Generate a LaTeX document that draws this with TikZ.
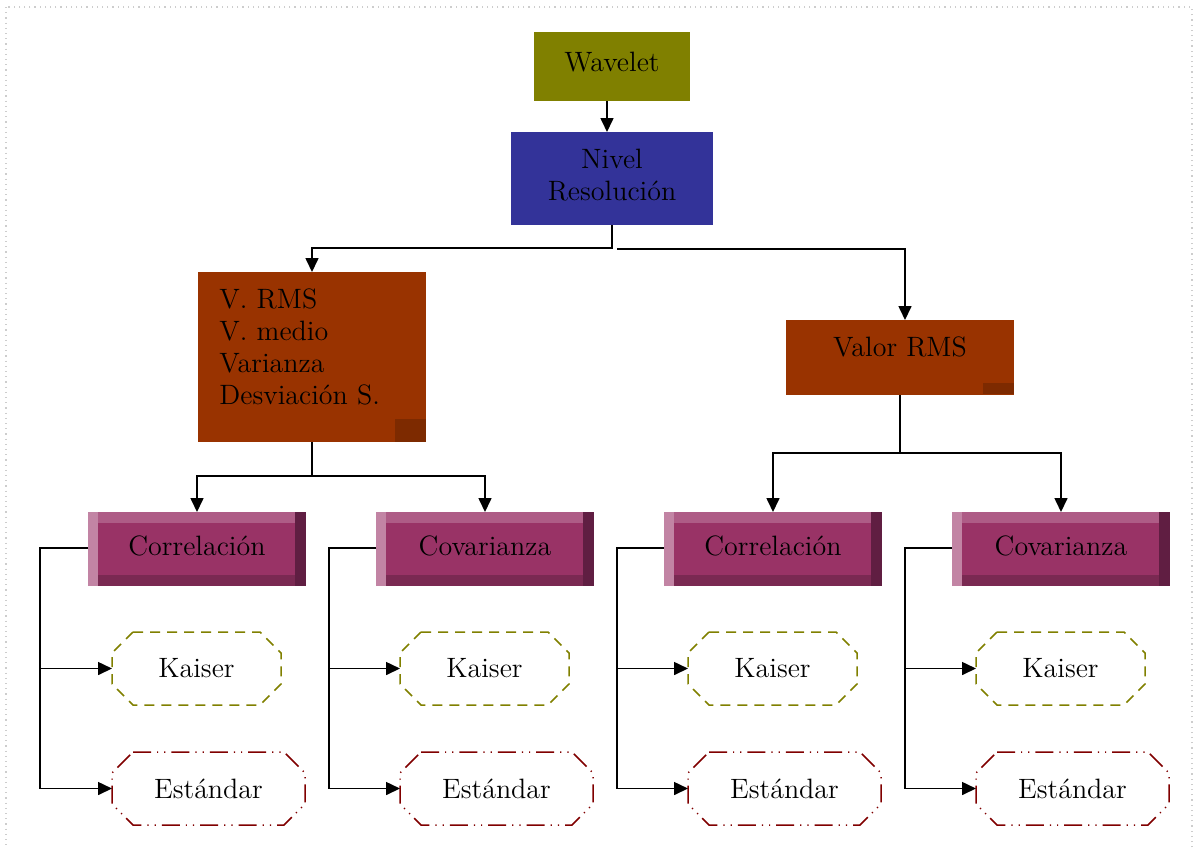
\documentclass[tikz,border=0pt]{standalone}
\usetikzlibrary{arrows.meta}
\definecolor{wolive}{RGB}{128,128,0}
\definecolor{wblue}{RGB}{51,51,153}
\definecolor{wbrown}{RGB}{153,51,0}
\definecolor{wdkbrown}{RGB}{125,42,0}
\definecolor{pmain}{RGB}{153,51,102}
\definecolor{ptop}{RGB}{174,92,134}
\definecolor{pleft}{RGB}{194,132,164}
\definecolor{pbot}{RGB}{122,41,82}
\definecolor{pright}{RGB}{96,30,66}
\definecolor{wred}{RGB}{128,0,0}
\definecolor{wgray}{RGB}{205,205,205}
\tikzset{
  plainbox/.style={inner sep=0pt, outer sep=0pt},
  conn/.style={line width=0.8pt, black},
  arr/.style={conn, -{Triangle[length=7pt,width=6.5pt]}},
  leafbox/.style={rectangle, inner sep=0pt, outer sep=0pt, minimum height=36.5pt},
  kaiserline/.style={draw=wolive, line width=0.75pt, dash pattern=on 5pt off 3.5pt},
  estline/.style={draw=wred, line width=0.75pt, dash pattern=on 9pt off 3pt on 0.6pt off 3pt on 0.6pt off 3pt},
}
\newcommand\chamf[2]{%
  \path[#2] ([xshift=10.5pt]#1.north west) -- ([xshift=-10.5pt]#1.north east)
    -- ([yshift=-10.5pt]#1.north east) -- ([yshift=10.5pt]#1.south east)
    -- ([xshift=-10.5pt]#1.south east) -- ([xshift=10.5pt]#1.south west)
    -- ([yshift=10.5pt]#1.south west) -- ([yshift=-10.5pt]#1.north west) -- cycle;
}
\newcommand\bevbox[3]{%
  \node[plainbox, fill=pmain, minimum width=109pt, minimum height=37pt] (#1) at (#2,549) {};
  \fill[ptop] (#1.north west) rectangle ([yshift=-5.5pt]#1.north east);
  \fill[pbot] (#1.south west) rectangle ([yshift=5.5pt]#1.south east);
  \fill[pleft] (#1.north west) rectangle ([xshift=5pt]#1.south west);
  \fill[pright] (#1.north east) rectangle ([xshift=-5.5pt]#1.south east);
  \node (#1t) at (#2,545.5) {#3};
}
\newcommand\leafgroup[5]{% suffix, box x-center, bus x, kaiser cx, estandar cx
  \node[leafbox, minimum width=84.5pt] (k#1) at (#4,668.5) {Kaiser};
  \chamf{k#1}{kaiserline}
  \node[leafbox, minimum width=96.5pt] (e#1) at (#5,788.5) {Estándar};
  \chamf{e#1}{estline}
  \coordinate (b#1) at (#3,548);
  \draw[conn] (g#1.west |- b#1) -- (b#1) -- (b#1 |- e#1.west);
  \draw[arr] (b#1 |- k#1.west) -- (k#1.west);
  \draw[arr] (b#1 |- e#1.west) -- (e#1.west);
}
\begin{document}
\begin{tikzpicture}[x=0.5pt,y=-0.5pt,font=\fontsize{14}{16}\selectfont]
\useasboundingbox (0,0) rectangle (1194,848);
\draw[wgray, line width=0.6pt, dotted] (6,7) rectangle (1192,856);

% top
\node[plainbox, fill=wolive, minimum width=78pt, minimum height=34.5pt] (wav) at (612,66.5) {};
\node (wavt) at (612,62.5) {Wavelet};
\node[plainbox, fill=wblue, minimum width=101pt, minimum height=46.5pt] (niv) at (612,178.5) {};
\node[align=center] (nivt) at (612,175.5) {Nivel\\Resolución};
\draw[arr] ([xshift=-2.5pt]wav.south) -- ([xshift=-2.5pt]wav.south |- niv.north);

% second level
\node[plainbox, fill=wbrown, minimum width=114pt, minimum height=85pt] (med) at (312,357) {};
\fill[wdkbrown] (395,419) rectangle (med.south east);
\node[align=left, anchor=west, inner sep=0pt] (medt) at (219,347) {V. RMS\\V. medio\\Varianza\\Desviación S.};

\node[plainbox, fill=wbrown, minimum width=114pt, minimum height=37.5pt] (val) at (900,357.5) {};
\fill[wdkbrown] (983,383) rectangle ([yshift=0.5pt]val.south east);
\node (valt) at (900,347) {Valor RMS};

\coordinate (n0) at (612,248);
\draw[arr] (niv.south) -- (n0) -| (med.north);
\coordinate (r0) at (617,249);
\draw[arr] (r0) -| ([xshift=2.5pt]val.north);

% third level
\bevbox{g1}{197}{Correlación}
\bevbox{g2}{485}{Covarianza}
\bevbox{g3}{773}{Correlación}
\bevbox{g4}{1061}{Covarianza}

\coordinate (j1) at (312,476);
\draw[conn] (med.south) -- (j1);
\draw[arr] (j1) -| (g1.north);
\draw[arr] (j1) -| (g2.north);
\coordinate (j2) at (900,453);
\draw[conn] (val.south) -- (j2);
\draw[arr] (j2) -| (g3.north);
\draw[arr] (j2) -| (g4.north);

% leaves
\leafgroup{1}{197}{40}{196.5}{208.5}
\leafgroup{2}{485}{329}{484.5}{496.5}
\leafgroup{3}{773}{617}{772.5}{784.5}
\leafgroup{4}{1061}{905}{1060.5}{1072.5}
\end{tikzpicture}
\end{document}
